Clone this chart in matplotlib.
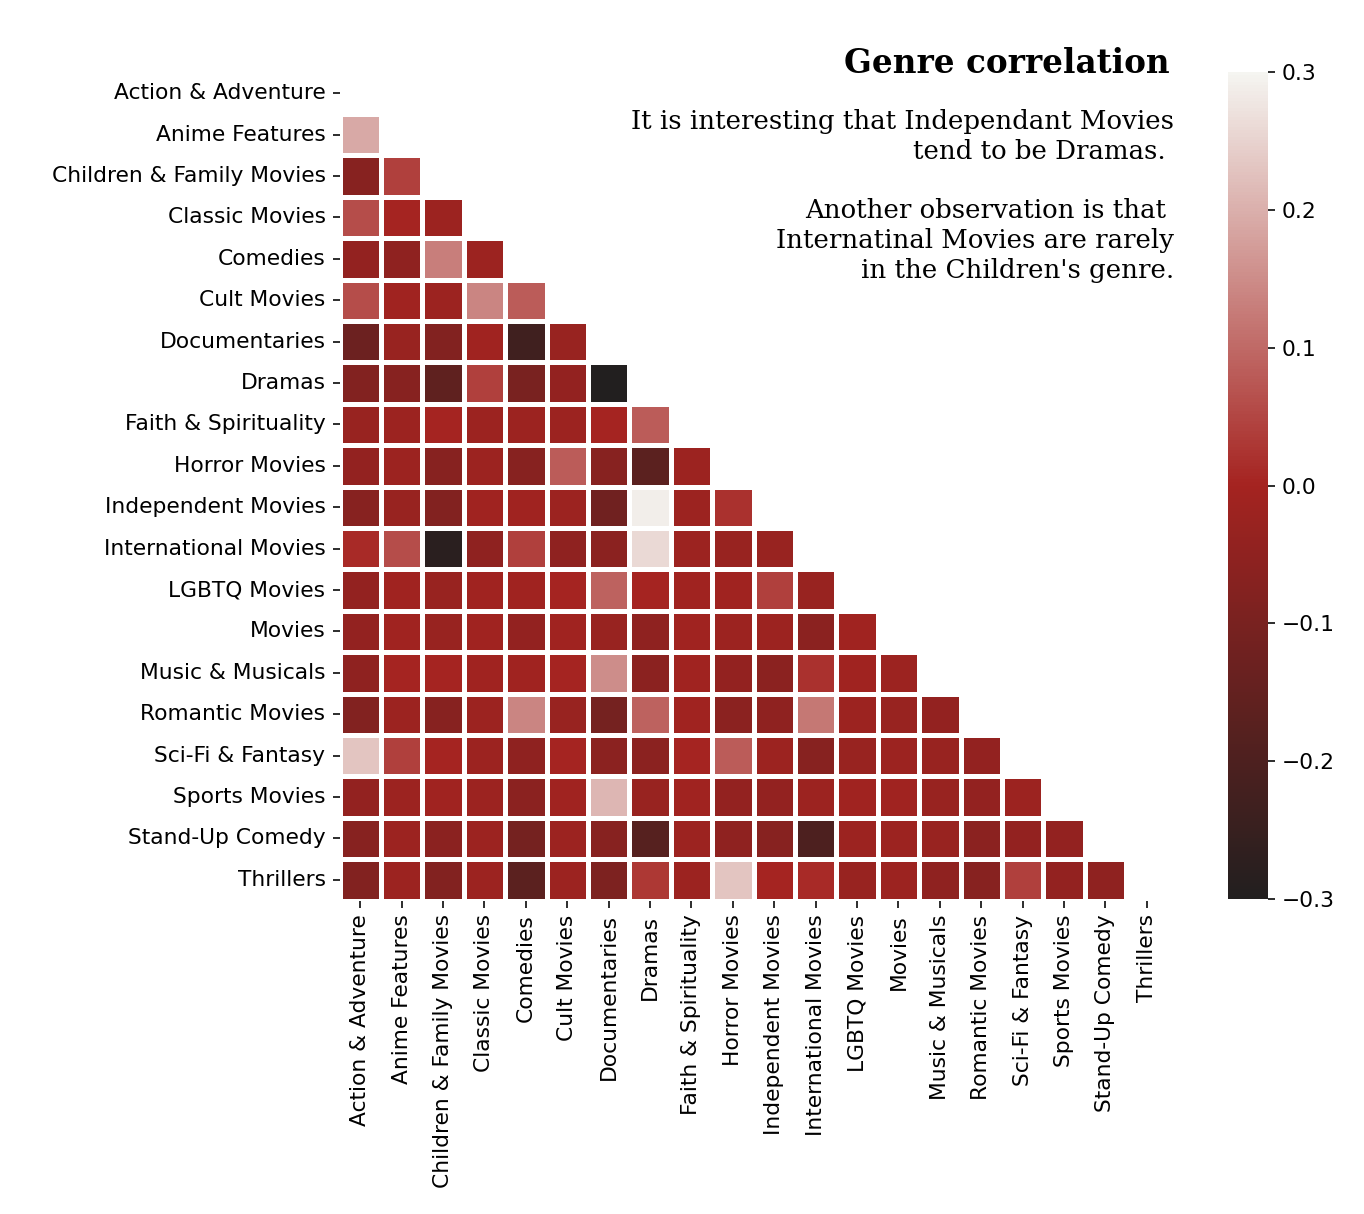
import numpy as np
import pandas as pd
import matplotlib
matplotlib.use("Agg")
import matplotlib.pyplot as plt
import matplotlib.colors as mcolors
import seaborn as sns

genres = ['Action & Adventure', 'Anime Features', 'Children & Family Movies',
          'Classic Movies', 'Comedies', 'Cult Movies', 'Documentaries', 'Dramas',
          'Faith & Spirituality', 'Horror Movies', 'Independent Movies',
          'International Movies', 'LGBTQ Movies', 'Movies', 'Music & Musicals',
          'Romantic Movies', 'Sci-Fi & Fantasy', 'Sports Movies',
          'Stand-Up Comedy', 'Thrillers']

# lower triangle of the correlation matrix, row i holds corr with genres 0..i-1
lower = [
    [],
    [0.19],
    [-0.07, 0.04],
    [0.06, 0.00, -0.02],
    [-0.04, -0.05, 0.13, -0.02],
    [0.06, -0.01, -0.02, 0.14, 0.08],
    [-0.13, -0.03, -0.08, -0.01, -0.23, -0.03],
    [-0.08, -0.07, -0.16, 0.04, -0.10, -0.04, -0.30],
    [-0.03, -0.02, 0.00, -0.02, -0.02, -0.02, 0.00, 0.08],
    [-0.04, -0.02, -0.07, -0.02, -0.07, 0.08, -0.07, -0.17, -0.02],
    [-0.07, -0.03, -0.08, -0.01, -0.01, -0.02, -0.12, 0.29, -0.02, 0.02],
    [0.01, 0.06, -0.28, -0.05, 0.04, -0.05, -0.06, 0.26, -0.02, -0.03, -0.03],
    [-0.04, -0.01, -0.03, -0.01, -0.01, 0.00, 0.09, 0.00, -0.01, -0.01, 0.04, -0.03],
    [-0.04, -0.01, -0.03, -0.01, -0.04, -0.01, -0.03, -0.05, -0.01, -0.02, -0.02, -0.06, -0.01],
    [-0.05, 0.00, 0.00, -0.01, -0.01, 0.00, 0.15, -0.06, -0.01, -0.04, -0.06, 0.02, -0.01, -0.02],
    [-0.08, -0.02, -0.07, -0.02, 0.14, -0.03, -0.11, 0.09, -0.01, -0.06, -0.05, 0.12, -0.02, -0.03, -0.04],
    [0.23, 0.04, 0.00, -0.02, -0.05, 0.00, -0.06, -0.06, 0.00, 0.08, -0.02, -0.07, -0.03, -0.02, -0.03, -0.04],
    [-0.04, -0.02, -0.01, -0.02, -0.06, -0.01, 0.21, -0.03, -0.01, -0.04, -0.04, -0.02, -0.01, -0.01, -0.03, -0.04, -0.02],
    [-0.07, -0.02, -0.06, -0.02, -0.11, -0.02, -0.07, -0.18, -0.02, -0.05, -0.07, -0.20, -0.02, -0.02, -0.03, -0.06, -0.04, -0.04],
    [-0.08, -0.02, -0.08, -0.02, -0.17, -0.02, -0.09, 0.03, -0.02, 0.23, 0.00, 0.01, -0.03, -0.02, -0.05, -0.07, 0.04, -0.04, -0.05],
]

# build symmetric matrix
n = len(genres)
mat = np.eye(n)
for i, row in enumerate(lower):
    for j, v in enumerate(row):
        mat[i, j] = v
        mat[j, i] = v
corr = pd.DataFrame(mat, index=genres, columns=genres)

mask = np.triu(np.ones_like(mat, dtype=bool))
cmap = mcolors.LinearSegmentedColormap.from_list("", ['#221f1f', '#a52320', '#f5f5f1'])

W, H = 1364, 1214
fig = plt.figure(figsize=(W / 144, H / 144), dpi=144)
ax = fig.add_axes([339.5 / W, 1 - 900.5 / H, 828 / W, 828 / H])
cax = fig.add_axes([1228 / W, 1 - 899 / H, 40 / W, 827 / H])

sns.heatmap(corr, mask=mask, cmap=cmap, vmin=-.3, vmax=.3, center=0,
            square=True, linewidths=2.5, ax=ax, cbar_ax=cax)

ax.set_xticks(np.arange(n) + 0.5)
ax.set_xticklabels(genres, rotation=90)
ax.set_yticks(np.arange(n) + 0.5)
ax.set_yticklabels(genres, rotation=0)
ax.tick_params(labelsize=10.9)
cax.tick_params(labelsize=10.9)

fig.text(1170 / W, 1 - 73 / H, 'Genre correlation', fontweight='bold',
         fontfamily='serif', fontsize=16.3, ha='right', va='baseline')
fig.text(1174 / W, 1 - 109 / H,
         "It is interesting that Independant Movies\ntend to be Dramas. \n\n"
         "Another observation is that \nInternatinal Movies are rarely\nin the Children's genre.",
         fontfamily='serif', fontsize=13, linespacing=1.24, ha='right', va='top')

fig.savefig('out.png', dpi=144)
